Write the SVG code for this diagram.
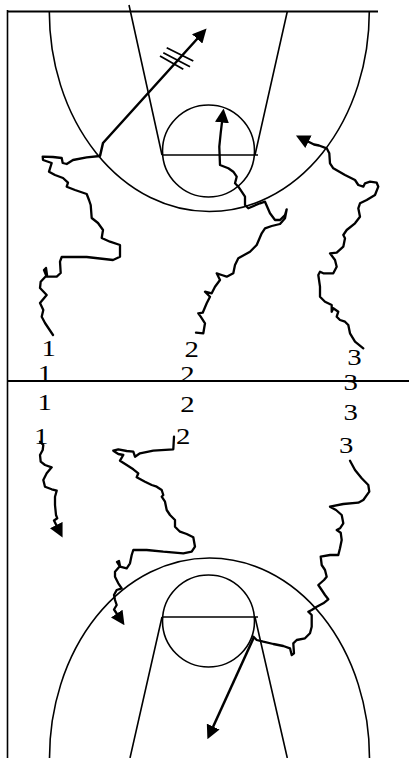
<svg xmlns="http://www.w3.org/2000/svg" width="409" height="758" viewBox="0 0 409 758">
<style>
.court{fill:none;stroke:#000;stroke-width:1.6}
.drib{fill:none;stroke:#000;stroke-width:2.3;stroke-linejoin:round;stroke-linecap:round}
.pass{fill:none;stroke:#000;stroke-width:2.5;stroke-linecap:butt}
.num{font-family:"Liberation Serif","Times New Roman",serif;font-size:24px;text-anchor:middle;fill:#000}
</style>
<defs>
<marker id="ah" viewBox="0 0 14 14" refX="0.5" refY="7" markerWidth="14" markerHeight="14" markerUnits="userSpaceOnUse" orient="auto">
<path d="M0,0 L14,7 L0,14 z" fill="#000"/>
</marker>
</defs>
<rect width="409" height="758" fill="#fff"/>
<g id="court">
<path class="court" d="M7.5,10 L7.5,758"/>
<path class="court" d="M7.5,11.5 L378,11.5" style="stroke-width:2"/>
<path class="court" d="M7.5,381 L409,381" style="stroke-width:2"/>
<path class="court" d="M49.3,11.5 A160,200 0 0 0 369.3,11.5"/>
<path class="court" d="M129,5 L162,155 M287.3,11.5 L255,155 M162,155 L258,155"/>
<circle class="court" cx="208.5" cy="151" r="46"/>
<path class="court" d="M49.5,758 A160,200 0 0 1 369.5,758"/>
<path class="court" d="M162,617 L130,758 M255,617 L287.3,758 M162,617 L258,617"/>
<circle class="court" cx="208.5" cy="621" r="46"/>
</g>
<g id="player1">
<text class="num" transform="translate(48.7,356) scale(1.2,1)">1</text>
<text class="num" transform="translate(45,380.5) scale(1.2,1)">1</text>
<text class="num" transform="translate(44.7,410) scale(1.2,1)">1</text>
<text class="num" transform="translate(41.3,443.5) scale(1.2,1)">1</text>
</g>
<g id="player2">
<text class="num" transform="translate(191.7,357.3) scale(1.2,1)">2</text>
<text class="num" transform="translate(187.5,381.7) scale(1.2,1)">2</text>
<text class="num" transform="translate(187.5,411.7) scale(1.2,1)">2</text>
<text class="num" transform="translate(183.3,444.3) scale(1.2,1)">2</text>
</g>
<g id="player3">
<text class="num" transform="translate(354.5,365) scale(1.2,1)">3</text>
<text class="num" transform="translate(350.8,390) scale(1.2,1)">3</text>
<text class="num" transform="translate(350.8,420) scale(1.2,1)">3</text>
<text class="num" transform="translate(346.3,452.7) scale(1.2,1)">3</text>
</g>
<g id="connectors">
<path class="drib" d="M53,335 L45,323 L41.7,316.7 L43.3,310 L40,303 L46.7,295 L40,288 L40.7,281.7 L47,275 L46,268 L44,270 L46.7,276.7 L56.7,276.7 L60.7,273 L60,261.7 L61.7,257 L86.7,257 L113,260 L120,256.7 L120,245 L110,241.7 L101.7,238 L103,230 L98,223 L91.7,218 L90.7,205 L89,200 L86.7,194 L75,190 L66.7,186.7 L68,182.7 L63,178 L55,175 L49,171.7 L51.7,163 L43,160 L42.7,156.7 L53,157 L61.7,158 L62.7,163 L66.7,164 L73,160 L86.7,157.3 L100,156"/>
<path class="pass" d="M100,156 L103,143 L197.5,38.5" marker-end="url(#ah)"/>
<path class="court" d="M166.7,47.7 L193.3,61 M163.3,52.7 L190,66.7 M160,56 L183.3,69.3" style="stroke-width:1.8"/>
<path class="drib" d="M196,332.7 L203.3,333.3 L205,323.3 L200.7,316.7 L198.3,313.3 L202.7,312.7 L206.7,303.3 L210,296.7 L205,291.7 L211.7,293.3 L215,286.7 L220,280 L216.7,273.3 L221.7,275 L226.7,276.7 L233.3,273.3 L235,265 L238.3,258.3 L250,251.7 L256.7,245 L261.7,233.3 L265,228.3 L271.7,226 L280,224 L285,218.3 L286.7,209.3 L285,215 L280,220 L275,220 L270,213.3 L265,201.7 L260,203.3 L248.3,208.3 L245,205 L245,196.7 L241.7,191.7 L238.3,186.7 L235,183.3 L236.7,176.7 L233.3,171.7 L228.3,168.3 L220,165 L219.3,146.7 L220.7,133 L222,122" marker-end="url(#ah)"/>
<path class="drib" d="M363.3,348.3 L355,341.7 L350,333.3 L348.3,325 L345,321.7 L340,320 L336.7,316.7 L338.3,311.7 L333.3,308.3 L331.7,311.7 L331.7,305 L325,301.7 L320,296.7 L320,286.7 L318.3,275 L320,271.7 L323.3,273.3 L333.3,273.3 L336.7,266.7 L335,260 L330,253.3 L336.7,252.7 L343.3,246.7 L345,238.3 L343.3,235 L346.7,230 L355,223.3 L360,216.7 L358.3,208.3 L360,203.3 L366.7,200 L375,195 L378.3,186.7 L376.7,182.7 L370,181.7 L365,183.3 L363.3,186.7 L358.3,185 L355,180 L345,175 L333.3,168.3 L330,163.3 L329.3,153.3 L326.7,148.3 L319,145.5 L314,144.5 L308,141.5" marker-end="url(#ah)"/>
<path class="drib" d="M40,441.7 L43.3,445 L42.7,450 L40,455 L40.7,461.7 L45,465 L51.7,467.3 L46.7,473.3 L43.3,480 L45,486.7 L51.7,489.3 L56.7,490.7 L55,496.7 L55,505 L56,515 L57.3,518.3 L54,520.5 L56.5,525.5" marker-end="url(#ah)"/>
<path class="drib" d="M174,436.7 L173.3,449.3 L153.3,450.7 L140,453.3 L135,456.7 L133.3,451.7 L126.7,451 L118.3,449.3 L113.3,450.7 L118.3,454 L123.3,455 L120,460.7 L126.7,465 L133.3,469.3 L138.3,473.3 L136.7,477.3 L145,481.7 L151.7,485 L156.7,486.7 L161.7,490 L163.3,495 L161.7,496.7 L165,501.7 L166.7,510 L170,515 L175,520 L175,526.7 L180,531.7 L186.7,534 L193.3,537.3 L195,546.7 L191.7,551.7 L183.3,553.3 L163.3,551.7 L146.7,550 L133.3,550 L131.7,555 L130,563.3 L126.7,568.3 L120,566.7 L117,562 L119,561 L120,566 L115,571.7 L115,576.7 L118.3,583.3 L121.7,588.3 L116.7,590 L114,595 L115,600 L116.7,605 L114,609.5 L117,614" marker-end="url(#ah)"/>
<path class="drib" d="M350,460.7 L355,470 L361.7,478.3 L368.3,485 L369.3,491.7 L363.3,500 L358.3,502.7 L343.3,504 L330,506.7 L336,510 L341.7,515 L343.3,523.3 L340,528.3 L336.7,530 L340.7,532.7 L341.7,540 L340,548.3 L338.3,555 L330,555 L320.7,556.7 L321.7,565 L325,570 L326.7,576.7 L324,580 L318.3,585 L321.7,590 L325,595 L328.3,599.3 L323.3,603.3 L316.7,606.7 L311.7,610 L308.3,611.7 L311.7,615 L311.7,626.7 L310,633.3 L305,638.3 L296.7,640 L293.3,643.3 L294,653.3 L291.7,655 L290,648.3 L283.3,646 L273.3,644 L263.3,641.7 L256.7,640 L253.3,636.7"/>
<path class="pass" d="M254,637 L213,727" marker-end="url(#ah)"/>
</g>
</svg>
